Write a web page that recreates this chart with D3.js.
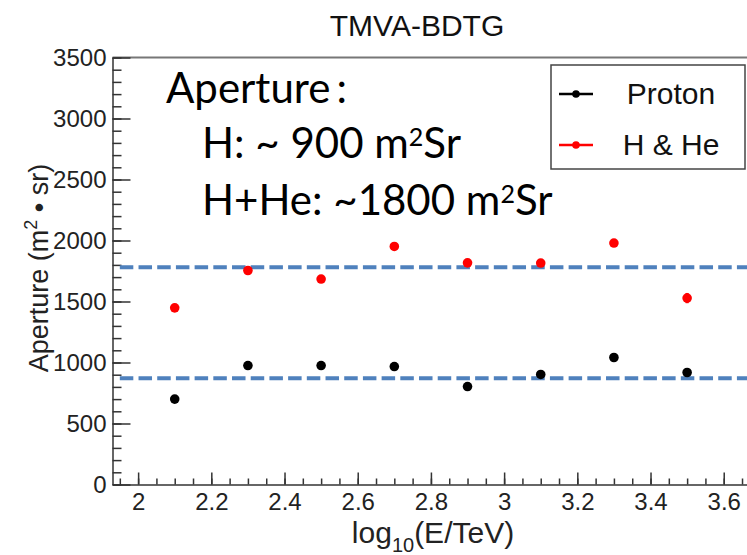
<!DOCTYPE html>
<html>
<head>
<meta charset="utf-8">
<script src="https://cdn.jsdelivr.net/npm/d3@7"></script>
<style>
  html, body { margin: 0; padding: 0; background: #fff; overflow: hidden; }
  svg { display: block; }
</style>
</head>
<body>
<svg id="chart" width="747" height="555"></svg>
<script>
// Energy bins (log10 of E/TeV) and aperture values in m^2 sr
const energies = [2.1, 2.3, 2.5, 2.7, 2.9, 3.1, 3.3, 3.5];
const protonAperture = [700, 975, 975, 967, 803, 902, 1041, 918];
const protonError = [8, 8, 8, 8, 8, 8, 8, 20];
const hheAperture = [1448, 1754, 1684, 1951, 1817, 1815, 1979, 1528];
const hheError = [8, 8, 8, 8, 8, 8, 8, 42];
const referenceLevels = [1780, 870];
const xMajorTicks = [2, 2.2, 2.4, 2.6, 2.8, 3, 3.2, 3.4, 3.6];
const yMajorTicks = [0, 500, 1000, 1500, 2000, 2500, 3000, 3500];
const legendLabels = ["Proton", "H & He"];
const seriesColors = ["#000000", "#ff0000"];

const svg = d3.select("#chart");
const helv = "'Liberation Sans', Arial, Helvetica, sans-serif";

const x = d3.scaleLinear().domain([1.93, 3.70]).range([112.5, 112.5 + 1.77 * 366]);
const y = d3.scaleLinear().domain([0, 3500]).range([484.5, 57.5]);

// Title
svg.append("text")
  .attr("x", 417).attr("y", 36)
  .attr("text-anchor", "middle")
  .attr("font-family", helv).attr("font-size", 30)
  .attr("fill", "#111")
  .text("TMVA-BDTG");

// Top frame
svg.append("line")
  .attr("x1", x.range()[0]).attr("x2", x.range()[1])
  .attr("y1", y(3500)).attr("y2", y(3500))
  .attr("stroke", "#777").attr("stroke-width", 2);

// Minor ticks
const yMinor = d3.range(0, 3501, 100);
svg.append("g")
  .attr("transform", `translate(${x.range()[0]},0)`)
  .call(d3.axisLeft(y).tickValues(yMinor).tickSize(-9).tickFormat(""))
  .call(g => g.select(".domain").remove())
  .call(g => g.selectAll("line").attr("stroke", "#333").attr("stroke-width", 1.5));

const xMinor = d3.range(1.95, 3.70, 0.05).map(v => +v.toFixed(2));
svg.append("g")
  .attr("transform", `translate(0,${y(0)})`)
  .call(d3.axisBottom(x).tickValues(xMinor).tickSize(-6).tickFormat(""))
  .call(g => g.select(".domain").remove())
  .call(g => g.selectAll("line").attr("stroke", "#333").attr("stroke-width", 1.5));

// Major axes
const yAxis = svg.append("g")
  .attr("transform", `translate(${x.range()[0]},0)`)
  .call(d3.axisLeft(y).tickValues(yMajorTicks).tickSize(-18).tickSizeOuter(0).tickPadding(6).tickFormat(d3.format("d")));
yAxis.select(".domain").attr("stroke", "#333").attr("stroke-width", 1.5);
yAxis.selectAll("line").attr("stroke", "#333").attr("stroke-width", 1.5);
yAxis.selectAll("text").attr("font-family", helv).attr("font-size", 24).attr("fill", "#222");

const xAxis = svg.append("g")
  .attr("transform", `translate(0,${y(0)})`)
  .call(d3.axisBottom(x).tickValues(xMajorTicks).tickSize(-12).tickSizeOuter(0).tickPadding(8).tickFormat(d => String(d)));
xAxis.select(".domain").attr("stroke", "#333").attr("stroke-width", 1.5);
xAxis.selectAll("line").attr("stroke", "#333").attr("stroke-width", 1.5);
xAxis.selectAll("text").attr("font-family", helv).attr("font-size", 24).attr("fill", "#222");

// Axis titles
const xt = svg.append("text")
  .attr("x", 433).attr("y", 543)
  .attr("text-anchor", "middle")
  .attr("font-family", helv).attr("font-size", 30).attr("fill", "#222");
xt.append("tspan").text("log");
xt.append("tspan").attr("font-size", 20).attr("dy", 9).text("10");
xt.append("tspan").attr("dy", -9).text("(E/TeV)");

const yt = svg.append("text")
  .attr("transform", "translate(48,268) rotate(-90)")
  .attr("text-anchor", "middle")
  .attr("font-family", helv).attr("font-size", 27).attr("fill", "#222");
yt.append("tspan").text("Aperture (m");
yt.append("tspan").attr("font-size", 18).attr("dy", -11).text("2");
yt.append("tspan").attr("dy", 11).text(" \u2022 sr)");

// Reference levels
svg.append("g").selectAll("line")
  .data(referenceLevels)
  .join("line")
  .attr("x1", x(1.95)).attr("x2", x(3.70))
  .attr("y1", d => y(d)).attr("y2", d => y(d))
  .attr("stroke", "#4f81bd").attr("stroke-width", 4)
  .attr("stroke-dasharray", "13.5,5.2");

// Data series
const series = [
  { values: protonAperture, errors: protonError, color: seriesColors[0] },
  { values: hheAperture, errors: hheError, color: seriesColors[1] }
];
series.forEach(s => {
  const g = svg.append("g");
  const pts = energies.map((e, i) => ({ e, v: s.values[i], err: s.errors[i] }));
  g.selectAll("line").data(pts).join("line")
    .attr("x1", d => x(d.e)).attr("x2", d => x(d.e))
    .attr("y1", d => y(d.v - d.err)).attr("y2", d => y(d.v + d.err))
    .attr("stroke", s.color).attr("stroke-width", 3);
  g.selectAll("circle").data(pts).join("circle")
    .attr("cx", d => x(d.e)).attr("cy", d => y(d.v))
    .attr("r", 4.8).attr("fill", s.color);
});

// Legend
const legend = svg.append("g");
legend.append("rect")
  .attr("x", 551).attr("y", 65).attr("width", 194).attr("height", 104)
  .attr("fill", "#fff").attr("stroke", "#444").attr("stroke-width", 1.5);
legendLabels.forEach((lab, i) => {
  const cy = 94 + i * 51;
  legend.append("line")
    .attr("x1", 559).attr("x2", 593).attr("y1", cy).attr("y2", cy)
    .attr("stroke", seriesColors[i]).attr("stroke-width", 2.5);
  legend.append("circle").attr("cx", 576).attr("cy", cy).attr("r", 3.8).attr("fill", seriesColors[i]);
  legend.append("text")
    .attr("x", 671).attr("y", cy + 10)
    .attr("text-anchor", "middle")
    .attr("font-family", helv).attr("font-size", 30).attr("fill", "#111")
    .text(lab);
});

// Annotation
const note = svg.append("g").attr("font-family", "Lato, 'Open Sans', sans-serif").attr("fill", "#000");
const l0 = note.append("text").attr("x", 166).attr("y", 103).attr("font-size", 42);
l0.append("tspan").text("Aperture");
l0.append("tspan").attr("dx", 6).text(":");
const l1 = note.append("text").attr("x", 202).attr("y", 158).attr("font-size", 42);
l1.append("tspan").text("H: ~ 900 m");
l1.append("tspan").attr("font-size", 25).attr("dy", -12).text("2");
l1.append("tspan").attr("dy", 12).text("Sr");
const l2 = note.append("text").attr("x", 202).attr("y", 215).attr("font-size", 42);
l2.append("tspan").text("H+He: ~1800 m");
l2.append("tspan").attr("font-size", 25).attr("dy", -12).text("2");
l2.append("tspan").attr("dy", 12).text("Sr");
</script>
</body>
</html>
